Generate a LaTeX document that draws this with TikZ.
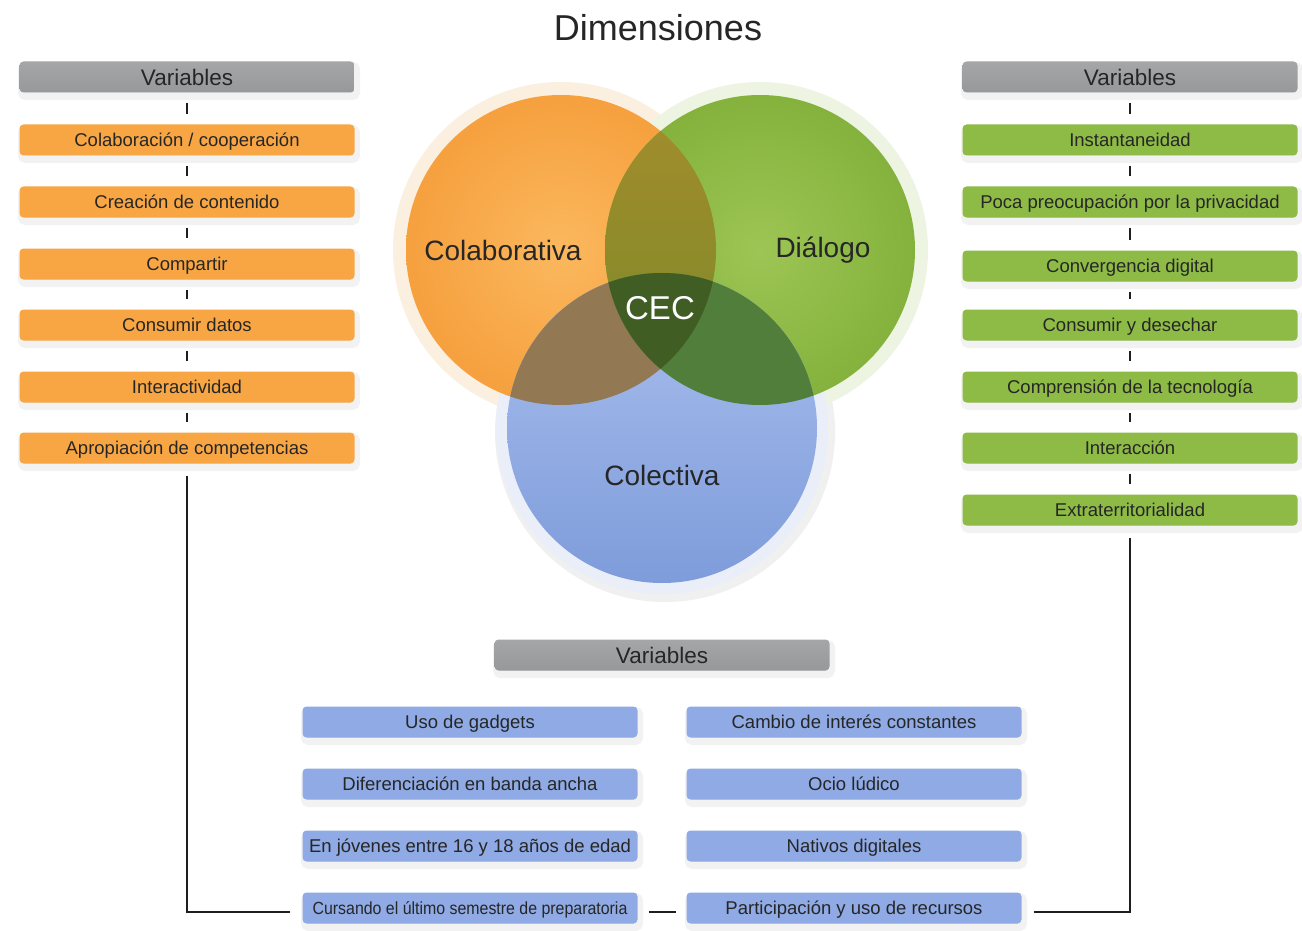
\documentclass[tikz,border=0pt]{standalone}
\usepackage{fontspec}
\setmainfont{Liberation Sans}
\usetikzlibrary{shadows}
\definecolor{txt}{HTML}{262626}
\definecolor{orfill}{HTML}{F8A644}
\definecolor{grfill}{HTML}{8DBB46}
\definecolor{blfill}{HTML}{8FAAE4}
\definecolor{hdtop}{HTML}{A4A6A8}
\definecolor{hdbot}{HTML}{96989A}
\definecolor{linec}{HTML}{1E1E1E}
\definecolor{haloO}{HTML}{FBEFDF}
\definecolor{haloG}{HTML}{EEF4E2}
\definecolor{haloB}{HTML}{E9EEF8}
\definecolor{orIn}{HTML}{FBB85E}
\definecolor{orOut}{HTML}{F6A03E}
\definecolor{grIn}{HTML}{9DC555}
\definecolor{grOut}{HTML}{84B23C}
\definecolor{blTop}{HTML}{ABC0ED}
\definecolor{blBot}{HTML}{7E9CDB}
\definecolor{ogTop}{HTML}{A58C2C}
\definecolor{ogBot}{HTML}{7A8A2A}
\definecolor{obc}{HTML}{927853}
\definecolor{gbc}{HTML}{527E3C}
\definecolor{cecc}{HTML}{405E24}
\begin{document}
\begin{tikzpicture}[x=1pt,y=-1pt,
  boxbase/.style={rounded corners=4pt, minimum width=335pt, minimum height=31pt, inner sep=0pt, text=txt,
    drop shadow={shadow xshift=2pt, shadow yshift=-4pt, fill=black!9, draw=black!5, line width=7pt, opacity=1}},
  boxfont/.style={font=\fontsize{18.5}{20}\selectfont, text height=13.3pt, text depth=0pt},
  obox/.style={boxbase, fill=orfill, boxfont},
  gbox/.style={boxbase, fill=grfill, boxfont},
  bbox/.style={boxbase, fill=blfill, boxfont},
  hbox/.style={boxbase, top color=hdtop, bottom color=hdbot, font=\fontsize{22.5}{24}\selectfont, text height=16.2pt, text depth=0pt},
  tick/.style={draw=linec, line width=2.6pt, shorten <=10pt, shorten >=10pt},
  conn/.style={draw=linec, line width=2pt},
  vlabel/.style={text=txt, font=\fontsize{28}{30}\selectfont},
]
\useasboundingbox (0,0) rectangle (1302,931);
\fill[white] (0,0) rectangle (1302,931);

% title
\node[text=txt, font=\fontsize{36}{40}\selectfont] (title) at (658,28) {Dimensiones};

% ---------- Venn diagram ----------
\coordinate (O) at (561,250);
\coordinate (G) at (760,250);
\coordinate (B) at (662,428);
\fill[black!6] ([xshift=3pt,yshift=-4pt]B) circle (170pt);
\fill[haloO] (O) circle (168pt);
\fill[haloG] (G) circle (168pt);
\fill[haloB] (B) circle (166pt);
% base circles
\shade[inner color=orIn, outer color=orOut] (O) circle (155pt);
\shade[inner color=grIn, outer color=grOut] (G) circle (155pt);
\begin{scope}
  \clip (B) circle (155pt);
  \shade[top color=blTop, bottom color=blBot] (507,273) rectangle (817,583);
\end{scope}
% overlaps
\begin{scope}
  \clip (O) circle (155pt);
  \shade[top color=ogTop, bottom color=ogBot] (G) circle (155pt);
\end{scope}
\begin{scope}
  \clip (O) circle (155pt);
  \fill[obc] (B) circle (155pt);
\end{scope}
\begin{scope}
  \clip (G) circle (155pt);
  \fill[gbc] (B) circle (155pt);
\end{scope}
\begin{scope}
  \clip (O) circle (155pt);
  \clip (G) circle (155pt);
  \fill[cecc] (B) circle (155pt);
\end{scope}
\node[vlabel] (colab) at (503,250) {Colaborativa};
\node[vlabel] (dialogo) at (823,250) {Diálogo};
\node[vlabel] (colect) at (662,475) {Colectiva};
\node[text=white, font=\fontsize{33}{36}\selectfont] (cec) at (660,308) {CEC};

% ---------- left column ----------
\node[hbox] (hl) at (187,77) {Variables};
\node[obox] (o1) at (187,140) {Colaboración / cooperación};
\node[obox] (o2) at (187,202) {Creación de contenido};
\node[obox] (o3) at (187,264) {Compartir};
\node[obox] (o4) at (187,325) {Consumir datos};
\node[obox] (o5) at (187,387) {Interactividad};
\node[obox] (o6) at (187,448) {Apropiación de competencias};
\draw[tick] (hl) -- (o1);
\draw[tick] (o1) -- (o2);
\draw[tick] (o2) -- (o3);
\draw[tick] (o3) -- (o4);
\draw[tick] (o4) -- (o5);
\draw[tick] (o5) -- (o6);

% ---------- right column ----------
\node[hbox] (hr) at (1130,77) {Variables};
\node[gbox] (g1) at (1130,140) {Instantaneidad};
\node[gbox] (g2) at (1130,202) {Poca preocupación por la privacidad};
\node[gbox] (g3) at (1130,266) {Convergencia digital};
\node[gbox] (g4) at (1130,325) {Consumir y desechar};
\node[gbox] (g5) at (1130,387) {Comprensión de la tecnología};
\node[gbox] (g6) at (1130,448) {Interacción};
\node[gbox] (g7) at (1130,510) {Extraterritorialidad};
\draw[tick] (hr) -- (g1);
\draw[tick] (g1) -- (g2);
\draw[tick] (g2) -- (g3);
\draw[tick] (g3) -- (g4);
\draw[tick] (g4) -- (g5);
\draw[tick] (g5) -- (g6);
\draw[tick] (g6) -- (g7);

% ---------- bottom ----------
\node[hbox] (hb) at (662,655) {Variables};
\node[bbox] (b1) at (470,722) {Uso de gadgets};
\node[bbox] (b2) at (470,784) {Diferenciación en banda ancha};
\node[bbox] (b3) at (470,846) {En jóvenes entre 16 y 18 años de edad};
\node[bbox] (b4) at (470,908) {\scalebox{0.86}[0.95]{Cursando el último semestre de preparatoria}};
\node[bbox] (b5) at (854,722) {Cambio de interés constantes};
\node[bbox] (b6) at (854,784) {Ocio lúdico};
\node[bbox] (b7) at (854,846) {Nativos digitales};
\node[bbox] (b8) at (854,908) {Participación y uso de recursos};

% connectors
\draw[conn, shorten <=12pt, shorten >=12pt] (o6.south) |- ([yshift=-4pt]b4.west);
\draw[conn, shorten <=11pt, shorten >=10pt] ([yshift=-4pt]b4.east) -- ([yshift=-4pt]b8.west);
\draw[conn, shorten <=12pt, shorten >=12pt] ([yshift=-4pt]b8.east) -| (g7.south);
\end{tikzpicture}
\end{document}
